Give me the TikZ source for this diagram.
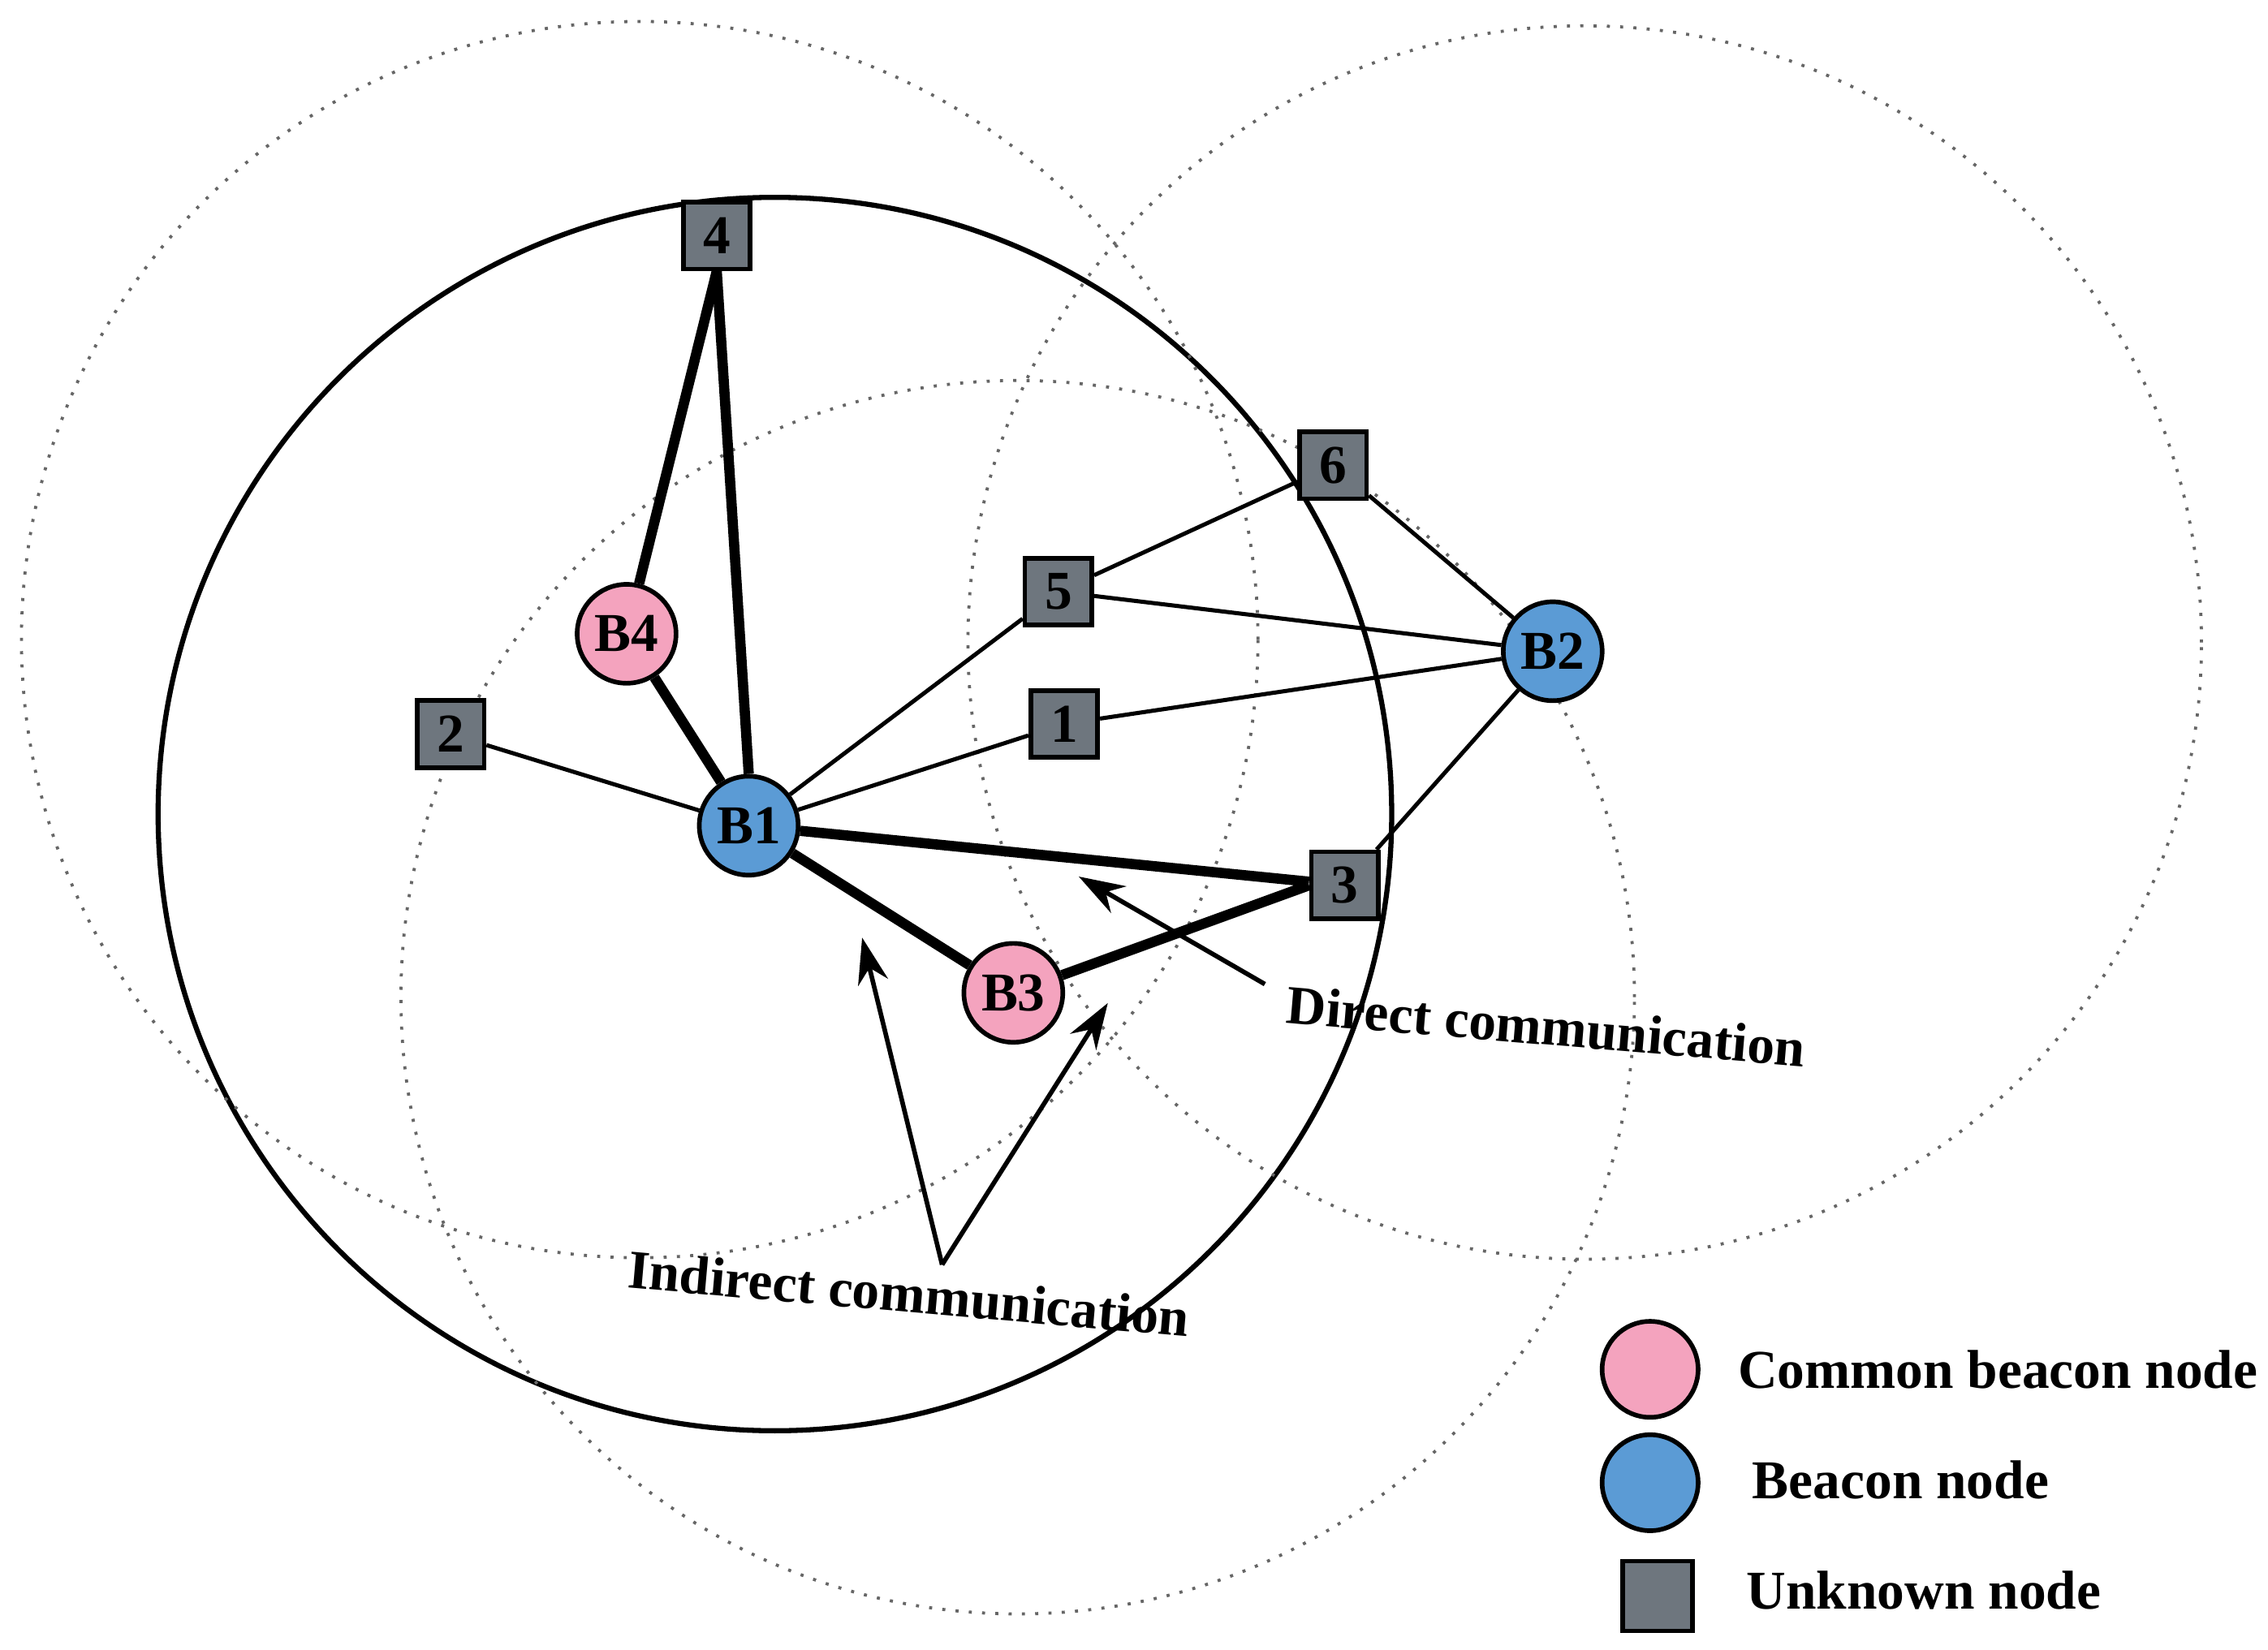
\documentclass[tikz,border=0pt]{standalone}
\usepackage{fontspec}
\setmainfont{Liberation Serif}
\usetikzlibrary{arrows.meta}
\begin{document}
\begin{tikzpicture}[x=0.01cm,y=-0.01cm,
 font=\bfseries\fontsize{10.7}{12}\selectfont,
 bc/.style={circle,draw=black,line width=0.9pt,fill=pinkc,minimum size=0.68cm,inner sep=0pt},
 bn/.style={circle,draw=black,line width=0.9pt,fill=bluec,minimum size=0.68cm,inner sep=0pt},
 un/.style={rectangle,draw=black,line width=0.9pt,fill=grayc,minimum size=0.46cm,inner sep=0pt},
 thin/.style={line width=0.8pt},
 thick/.style={line width=2pt},
 dot/.style={dotted,line width=0.6pt,gray!80!black},
 arr/.style={-{Stealth[length=9pt,width=6pt]},line width=0.9pt}]
\definecolor{pinkc}{HTML}{F4A3BE}
\definecolor{bluec}{HTML}{5B9BD5}
\definecolor{grayc}{HTML}{6E767E}
\useasboundingbox (0,0) rectangle (1560,1135);
\draw[line width=1pt] (533,560) circle[radius=4.24cm];
\draw[dot] (440,440) circle[radius=4.25cm];
\draw[dot] (1090,442) circle[radius=4.24cm];
\draw[dot] (700,686) circle[radius=4.24cm];
\node[un] (n4) at (493,162) {4};
\node[bc] (b4) at (431,436) {B4};
\node[un] (n2) at (310,505) {2};
\node[bn] (b1) at (515,568) {B1};
\node[un] (n5) at (728,407) {5};
\node[un] (n6) at (917,320) {6};
\node[un] (n1) at (732,498) {1};
\node[bn] (b2) at (1068,448) {B2};
\node[un] (n3) at (925,609) {3};
\node[bc] (b3) at (697,683) {B3};
\draw[thin] (b1)--(n2); \draw[thin] (b1)--(n5); \draw[thin] (b1)--(n1);
\draw[thin] (n5)--(n6); \draw[thin] (n5)--(b2); \draw[thin] (n1)--(b2);
\draw[thin] (n6)--(b2); \draw[thin] (n3)--(b2);
\draw[thick] (b1.north)--(n4.south); \draw[thick] (b4)--(n4.south); \draw[thick] (b4)--(b1);
\draw[thick] (b1)--(n3); \draw[thick] (b1)--(b3); \draw[thick] (b3)--(n3.west);
\node[rotate=-4.8,anchor=west] (dt) at (873,690) {Direct communication};
\coordinate (da) at (742,603);
\draw[arr] (870,677)--(da);
\node[rotate=-5,anchor=west] (it) at (420,872) {Indirect communication};
\coordinate (ia) at (648,870);
\coordinate (ib) at (593,645);
\coordinate (ic) at (762,690);
\draw[arr] (ia)--(ib); \draw[arr] (ia)--(ic);
\node[bc,minimum size=0.66cm] (l1) at (1135,942) {};
\node[bn,minimum size=0.66cm] (l2) at (1135,1020) {};
\node[un,minimum size=0.48cm] (l3) at (1140,1098) {};
\node[anchor=west] at (1183,942) {Common beacon node};
\node[anchor=west] at (1193,1018) {Beacon node};
\node[anchor=west] at (1189,1094) {Unknown node};
\end{tikzpicture}
\end{document}
